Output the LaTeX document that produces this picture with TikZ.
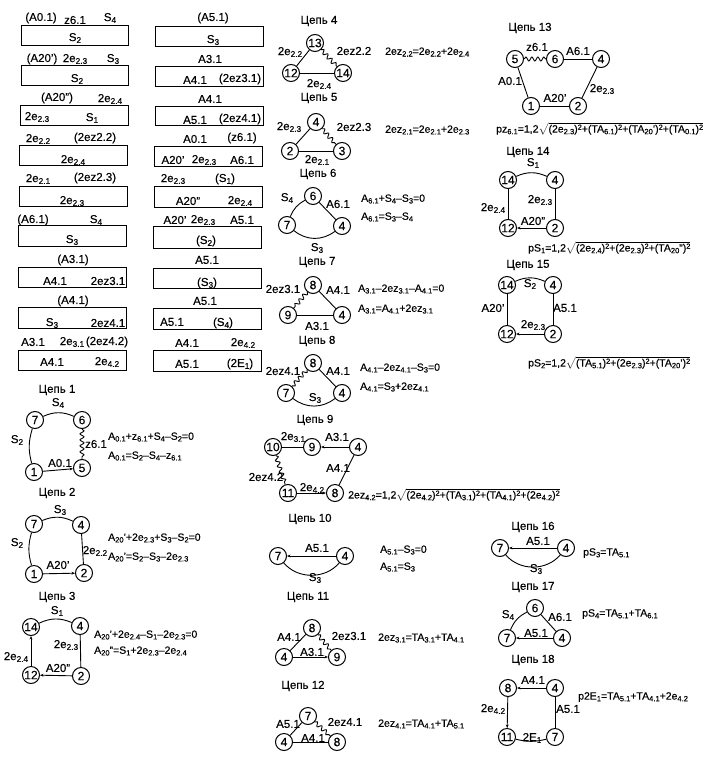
\documentclass[tikz,border=0pt]{standalone}
\usepackage{fontspec}
\setmainfont[RawFeature={embolden=0.35}]{Liberation Sans}
\usetikzlibrary{decorations.pathmorphing, arrows.meta}
\newcommand{\low}[1]{\raisebox{-0.3ex}{\scalebox{0.72}{#1}}}
\newcommand{\sq}{\raisebox{0.5ex}{\scalebox{0.7}{2}}}
\tikzset{
  pnt/.style={draw, circle, line width=1pt, inner sep=0pt, minimum size=17pt, font=\fontsize{12}{12}\selectfont},
  tbox/.style={draw, line width=1pt, inner sep=0pt},
  lbl/.style={inner sep=0pt, font=\fontsize{11.5}{12}\selectfont},
  eqn/.style={inner sep=0pt, anchor=west, font=\fontsize{10.5}{11}\selectfont},
  wire/.style={line width=0.9pt},
  spring/.style={wire, decorate, decoration={snake, segment length=6pt, amplitude=2pt}},
}
\begin{document}
\begin{tikzpicture}[x=1pt, y=-1pt, >={Stealth[length=3.5pt, width=2.8pt]}]
    \useasboundingbox (0,0) rectangle (705,758);

    % table of the balances
    \foreach \x/\y/\w/\h [count=\i] in {
        75/35/107/20, 74.5/75/107/20, 74/115/108/20, 73.5/155/108/20, 73/196/108/20,
        72.5/236/108/21, 72/277/108/20, 72/318/108/21, 72/360/108/20,
        209/36/108/20, 209/76/108/20, 209/116/108/19, 208/156/108/20, 208/197/108/21,
        207.5/237/108/22, 207/278/108/20, 207/319/108/21, 207/361/108/21} {
        \node[tbox, minimum width=\w pt, minimum height=\h pt] (box\i) at (\x,\y) {};
    }
    \foreach \x/\y/\t [count=\i] in {
        41/18/(A0.1), 75/20/z6.1, 110/18/S\low{4}, 75/38/S\low{2},
        42/59/(A20'), 75/59/2e\low{2.3}, 113/59/S\low{3}, 77/79/S\low{2},
        57/98/(A20''), 110/99/2e\low{2.4}, 37/117/2e\low{2.3}, 92/118/S\low{1},
        38/139/2e\low{2.2}, 95/138/(2ez2.2), 73/160/2e\low{2.4},
        38/179/2e\low{2.1}, 95/178/(2ez2.3), 72/201/2e\low{2.3},
        33/220/(A6.1), 96/220/S\low{4}, 72/240/S\low{3},
        73/260/(A3.1), 55/281/A4.1, 108/281/2ez3.1,
        73/301/(A4.1), 52/323/S\low{3}, 108/323/2ez4.1,
        33/342/A3.1, 72/342/2e\low{3.1}, 107/342/(2ez4.2), 52/362/A4.1, 107/362/2e\low{4.2},
        213/18/(A5.1), 213/40/S\low{3},
        210/59/A3.1, 195/80/A4.1, 240/79/(2ez3.1),
        210/99/A4.1, 195/120/A5.1, 240/119/(2ez4.1),
        195/139/A0.1, 242/138/(z6.1), 173/160/A20', 204/160/2e\low{2.3}, 242/160/A6.1,
        173/179/2e\low{2.3}, 225/179/(S\low{1}), 188/201/A20'', 240/201/2e\low{2.4},
        175/220/A20', 203/220/2e\low{2.3}, 242/220/A5.1, 206/241/(S\low{2}),
        207/260/A5.1, 207/283/(S\low{3}),
        205/301/A5.1, 172/322/A5.1, 223/323/(S\low{4}),
        187/343/A4.1, 243/343/2e\low{4.2}, 187/364/A5.1, 240/364/(2E\low{1})} {
        \node[lbl] (cell\i) at (\x,\y) {\t};
    }

    % chain titles
    \foreach \x/\y/\t in {57/390/1, 57/493/2, 57/597/3, 319/21/4, 319/98/5, 318/174/6,
        317/262/7, 317/341/8, 315/420/9, 310/519/10, 308/597/11, 303/686/12,
        530/28/13, 528/152/14, 528/265/15, 533/527/16, 533/587/17, 533/660/18} {
        \node[lbl] (title\t) at (\x,\y) {Цепь \t};
    }

    % points of the chains
    \foreach \name/\x/\y/\t in {
        a7/35/420/7, a6/82/420/6, a1/34/472/1, a5/82/468/5,
        b7/34/524/7, b4/81/525/4, b1/34/574/1, b2/84/573/2,
        c14/31/627/14, c4/80/626/4, c12/31/675/12, c2/81/676/2,
        d13/315/43/13, d12/291/73/12, d14/343/73/14,
        e4/316/122/4, e2/290/151/2, e3/342/151/3,
        f6/313/196/6, f7/287/225/7, f4/342/226/4,
        g8/313/285/8, g9/288/315/9, g4/342/315/4,
        h8/313/363/8, h7/286/393/7, h4/342/393/4,
        i10/273/447/10, i9/312/447/9, i4/358/447/4, i11/288/493/11, i8/335/493/8,
        j7/278/556/7, j4/345/556/4,
        k8/312/628/8, k4/284/657/4, k9/337/657/9,
        l7/308/716/7, l4/284/742/4, l8/337/742/8,
        m5/515/59/5, m6/555/59/6, m4/601/59/4, m1/531/106/1, m2/578/106/2,
        n14/508/180/14, n4/555/180/4, n12/508/228/12, n2/555/228/2,
        o14/507/285/14, o4/553/285/4, o12/507/334/12, o2/553/334/2,
        p7/500/548/7, p4/566/548/4,
        q6/535/608/6, q7/507/638/7, q4/562/638/4,
        r8/508/688/8, r4/555/688/4, r11/507/737/11, r7/555/737/7} {
        \node[pnt] (\name) at (\x,\y) {\t};
    }

    % straight branches
    \foreach \a/\b in {d13/d12, d12/d14, e4/e2, e2/e3, f6/f4, g8/g4, g9/g4, h8/h4,
        i10/i9, i4/i8, k8/k4, l7/l4, l4/l8, m6/m4, m4/m2, m1/m2, m5/m1,
        c4/c2, n14/n12, n4/n2, o14/o12, o4/o2, q6/q4, r4/r7, b4/b2} {
        \draw[wire] (\a) -- (\b);
    }
    % branches with an arrow
    \foreach \a/\b in {a1/a5, b1/b2, c12/c14, c2/c12, i4/i9, i11/i8, j4/j7, k4/k9,
        n2/n12, o2/o12, p4/p7, q4/q7, r4/r8, r8/r11} {
        \draw[wire, ->] (\a) -- (\b);
    }
    % curved branches, over the top
    \foreach \a/\b in {a7/a6, b7/b4, c14/c4, n14/n4, o14/o4} {
        \draw[wire] (\a) to[bend left=24] (\b);
    }
    \draw[wire] (a7) to[bend right=16] (a1);
    \draw[wire] (b7) to[bend right=16] (b1);
    \draw[wire] (f7) to[bend left=20] (f6);
    \draw[wire] (q7) to[bend left=20] (q6);
    % curved branches, under the bottom
    \foreach \a/\b in {f7/f4, h7/h4} {
        \draw[wire] (\a) to[bend right=38] (\b);
    }
    \foreach \a/\b in {j7/j4, p7/p4} {
        \draw[wire] (\a) to[bend right=50] (\b);
    }
    \draw[wire] (r11) to[bend right=14] (r7);
    % zigzag branches
    \foreach \a/\b in {a6/a5, d13/d14, e4/e3, g8/g9, h8/h7, i10/i11, k8/k9, l7/l8, m5/m6} {
        \draw[spring] (\a) -- (\b);
    }

    % branch labels
    \foreach \x/\y/\t [count=\i] in {
        58/403/S\low{4}, 17/440/S\low{2}, 60/463/A0.1, 96/444/z6.1,
        60/510/S\low{3}, 17/543/S\low{2}, 95/551/2e\low{2.2}, 58/565/A20',
        57/611/S\low{1}, 66/645/2e\low{2.3}, 16/657/2e\low{2.4}, 58/668/A20'',
        290/52/2e\low{2.2}, 354/51/2ez2.2, 319/84/2e\low{2.4},
        289/127/2e\low{2.3}, 354/127/2ez2.3, 317/160/2e\low{2.1},
        287/198/S\low{4}, 338/204/A6.1, 317/248/S\low{3},
        283/289/2ez3.1, 338/290/A4.1, 317/326/A3.1,
        283/371/2ez4.1, 338/371/A4.1, 315/398/S\low{3},
        293/437/2e\low{3.1}, 337/437/A3.1, 338/468/A4.1, 266/477/2ez4.2, 312/488/2e\low{4.2},
        317/548/A5.1, 315/578/S\low{3},
        289/637/A4.1, 349/636/2ez3.1, 312/652/A3.1,
        288/724/A5.1, 345/722/2ez4.1, 313/738/A4.1,
        537/47/z6.1, 578/51/A6.1, 510/81/A0.1, 602/89/2e\low{2.3}, 555/98/A20',
        533/163/S\low{1}, 540/200/2e\low{2.3}, 493/208/2e\low{2.4}, 533/221/A20'',
        530/284/S\low{2}, 493/308/A20', 565/308/A5.1, 533/325/2e\low{2.3},
        538/541/A5.1, 536/569/S\low{3},
        508/615/S\low{4}, 560/617/A6.1, 536/633/A5.1,
        533/680/A4.1, 493/709/2e\low{4.2}, 568/709/A5.1, 532/738/2E\low{1}} {
        \node[lbl] (branch\i) at (\x,\y) {\t};
    }

    % equations
    \foreach \x/\y/\t [count=\i] in {
        108/437/A\low{0.1}+z\low{6.1}+S\low{4}–S\low{2}=0,
        108/456/A\low{0.1}=S\low{2}–S\low{4}–z\low{6.1},
        108/538/A\low{20}'+2e\low{2.3}+S\low{3}–S\low{2}=0,
        108/557/A\low{20}'=S\low{2}–S\low{3}–2e\low{2.3},
        94/635/A\low{20}'+2e\low{2.4}–S\low{1}–2e\low{2.3}=0,
        94/651/A\low{20}''=S\low{1}+2e\low{2.3}–2e\low{2.4},
        385/52/2ez\low{2.2}=2e\low{2.2}+2e\low{2.4},
        385/130/2ez\low{2.1}=2e\low{2.1}+2e\low{2.3},
        361/199/A\low{6.1}+S\low{4}–S\low{3}=0,
        361/217/A\low{6.1}=S\low{3}–S\low{4},
        358/289/A\low{3.1}–2ez\low{3.1}–A\low{4.1}=0,
        358/309/A\low{3.1}=A\low{4.1}+2ez\low{3.1},
        360/368/A\low{4.1}–2ez\low{4.1}–S\low{3}=0,
        360/387/A\low{4.1}=S\low{3}+2ez\low{4.1},
        348/495/{2ez\low{4.2}=1,2$\sqrt{\mbox{(2e\low{4.2})\sq+(TA\low{3.1})\sq+(TA\low{4.1})\sq+(2e\low{4.2})\sq}}$},
        380/550/A\low{5.1}–S\low{3}=0,
        380/567/A\low{5.1}=S\low{3},
        378/638/2ez\low{3.1}=TA\low{3.1}+TA\low{4.1},
        378/724/2ez\low{4.1}=TA\low{4.1}+TA\low{5.1},
        496/129/{pz\low{6.1}=1,2$\sqrt{\mbox{(2e\low{2.3})\sq+(TA\low{6.1})\sq+(TA\low{20}')\sq+(TA\low{0.1})\sq}}$},
        528/248/{pS\low{1}=1,2$\sqrt{\mbox{(2e\low{2.4})\sq+(2e\low{2.3})\sq+(TA\low{20}'')\sq}}$},
        528/363/{pS\low{2}=1,2$\sqrt{\mbox{(TA\low{5.1})\sq+(2e\low{2.3})\sq+(TA\low{20}')\sq}}$},
        583/553/pS\low{3}=TA\low{5.1},
        582/614/pS\low{4}=TA\low{5.1}+TA\low{6.1},
        578/697/p2E\low{1}=TA\low{5.1}+TA\low{4.1}+2e\low{4.2}} {
        \node[eqn] (eq\i) at (\x,\y) {\t};
    }
\end{tikzpicture}
\end{document}
